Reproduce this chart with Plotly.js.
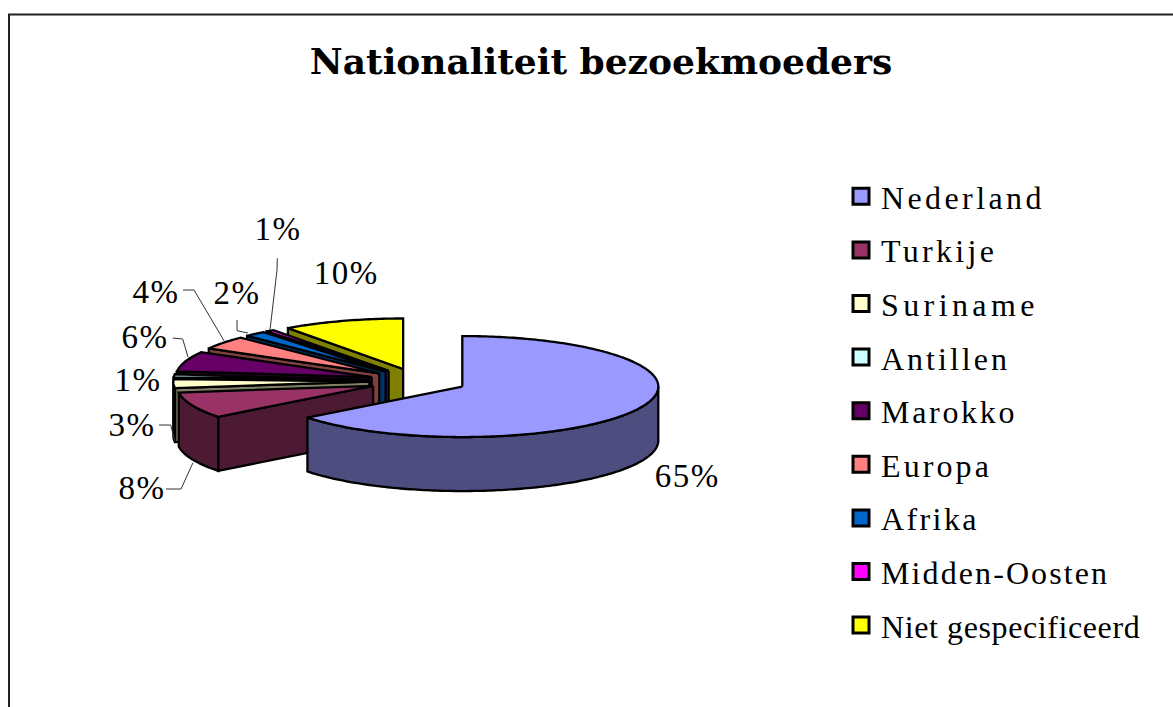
<!DOCTYPE html>
<html><head><meta charset="utf-8">
<script src="https://cdn.plot.ly/plotly-3.0.1.min.js"></script>
<style>html,body{margin:0;padding:0;background:#fff}</style></head>
<body><div id="chart" style="width:1173px;height:707px"></div>
<script>
const categories = ["Nederland","Turkije","Suriname","Antillen","Marokko","Europa","Afrika","Midden-Oosten","Niet gespecificeerd"];
const shares = [64.5,8.4,2.9,1.0,6.4,4.3,1.8,0.7,10];
const topColors = ["#9999FF","#993366","#FFFFCC","#CCFFFF","#660066","#FF8080","#0066CC","#FF00FF","#FFFF00"];
const sideColors = ["#4D4D80","#4D1A33","#808066","#668080","#330033","#804040","#003366","#800080","#808000"];
const titleText = "Nationaliteit bezoekmoeders";

const serif = "'Liberation Serif', serif";
const pieCx = 418.3, pieCy = 381, radX = 196, radY = 50.5, depth = 54, explode = 49;
const labelX = [687,142,132,138,145,156,237,278,346];
const labelY = [476,488,425,380,337,292,293,229,273];
const legendTracking = [3.4,3.3,4.4,3.0,2.7,3.1,2.4,2.1,0.6];
const leaders = [
  "M159,425 L170.7,425 L175,441.7",
  "M166,489 L181,489 L193,462.7",
  "M172.7,338 L182.7,339 L188,357",
  "M183,290 L194,290 L224,340.7",
  "M237,320 L237,330.7 L248,333",
  "M277.3,258.3 L277,270 L270,330"
];

const rad = d => d * Math.PI / 180;
const total = shares.reduce((a,b)=>a+b,0);
const slices = [];
let run = 0;
shares.forEach((v,i)=>{
  const start = run/total*360, end = (run+v)/total*360, mid = (start+end)/2;
  run += v;
  slices.push({i,start,end,
    cx: pieCx + explode*Math.sin(rad(mid)),
    cy: pieCy - explode*Math.cos(rad(mid))*radY/radX});
});
const rimX = (s,a)=> s.cx + radX*Math.sin(rad(a));
const rimY = (s,a)=> s.cy - radY*Math.cos(rad(a));
function arc(a,b){const o=[];const n=Math.max(2,Math.ceil(Math.abs(b-a)));for(let k=0;k<=n;k++)o.push(a+(b-a)*k/n);return o;}
function poly(xs,ys,color){
  return {type:"scatter",mode:"lines",x:xs.concat(xs[0]),y:ys.concat(ys[0]),fill:"toself",fillcolor:color,
    line:{color:"#000",width:2.3,simplify:false},showlegend:false,hoverinfo:"skip"};
}
const traces = [];
slices.slice().reverse().forEach(s=>{
  const side = sideColors[s.i], top = topColors[s.i];
  if(Math.sin(rad(s.start)) < -1e-6){
    const xa=rimX(s,s.start), ya=rimY(s,s.start);
    traces.push(poly([s.cx,xa,xa,s.cx],[s.cy,ya,ya+depth,s.cy+depth],side));
  }
  const f0=Math.max(s.start,90), f1=Math.min(s.end,270);
  if(f1>f0){
    const a=arc(f0,f1);
    const xs=a.map(t=>rimX(s,t)), ys=a.map(t=>rimY(s,t));
    traces.push(poly(xs.concat(xs.slice().reverse()), ys.concat(ys.slice().reverse().map(y=>y+depth)), side));
  }
  const a=arc(s.start,s.end);
  traces.push(poly([s.cx].concat(a.map(t=>rimX(s,t))),[s.cy].concat(a.map(t=>rimY(s,t))),top));
});
categories.forEach((c,i)=>{
  traces.push({type:"scatter",mode:"markers",x:[null],y:[null],name:c,legendgroup:c,
    marker:{symbol:"square",size:16,color:topColors[i],line:{color:"#000",width:3}},hoverinfo:"skip"});
});
const annotations = shares.map((v,i)=>({x:labelX[i],y:labelY[i],xref:"x",yref:"y",text:Math.round(v)+"%",showarrow:false,
  xanchor:"center",yanchor:"middle",font:{family:serif,size:33,color:"#000"}}));
const shapes = [{type:"rect",xref:"x",yref:"y",x0:9,y0:14.5,x1:1190,y1:730,line:{color:"#222",width:2},fillcolor:"rgba(0,0,0,0)",layer:"below"}]
  .concat(leaders.map(p=>({type:"path",xref:"x",yref:"y",path:p,line:{color:"#333",width:1}})));
const layout = {
  width:1173,height:707,autosize:false,
  margin:{l:0,r:0,t:0,b:0,pad:0,autoexpand:false},
  paper_bgcolor:"#fff",plot_bgcolor:"#fff",
  title:{text:titleText,x:601/1173,xanchor:"center",y:1-61/707,yanchor:"middle",font:{family:"'DejaVu Serif', serif",size:36,color:"#000",weight:700}},
  xaxis:{range:[0,1173],visible:false,fixedrange:true},
  yaxis:{range:[707,0],visible:false,fixedrange:true},
  showlegend:true,
  legend:{x:841/1173,y:1-169/707,xanchor:"left",yanchor:"top",bgcolor:"rgba(0,0,0,0)",borderwidth:0,tracegroupgap:9,
    font:{family:serif,size:32,color:"#000"}},
  shapes,annotations
};
Plotly.newPlot("chart",traces,layout,{displayModeBar:false,staticPlot:true}).then(()=>{
  document.querySelectorAll(".legendtext").forEach((t,i)=>{t.style.letterSpacing=legendTracking[i]+"px";});
  document.querySelectorAll(".legend .scrollbox").forEach(b=>b.removeAttribute("clip-path"));
  document.querySelectorAll(".annotation-text").forEach(t=>{t.style.letterSpacing="1.5px";});
});
</script></body></html>
